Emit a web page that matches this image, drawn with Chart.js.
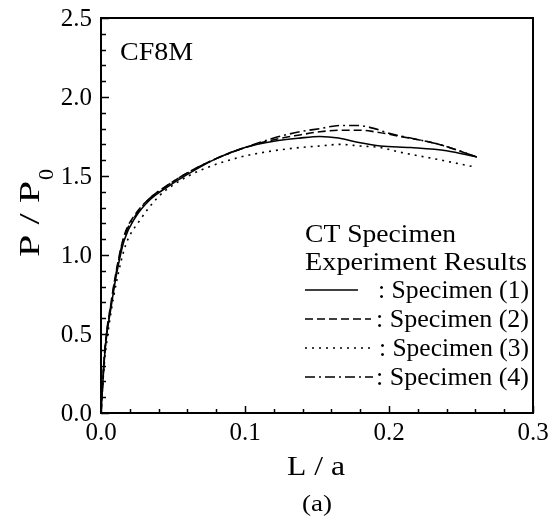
<!DOCTYPE html>
<html>
<head>
<meta charset="utf-8">
<script src="https://cdn.jsdelivr.net/npm/chart.js@4"></script>
<style>
html,body{margin:0;padding:0;background:#fff;}
#wrap{width:560px;height:523px;}
</style>
</head>
<body>
<div id="wrap"><canvas id="c" width="560" height="523"></canvas></div>
<script>
// Data (L/a, P/P0)
const s1L = [0, 0.002, 0.0035, 0.007, 0.0104, 0.016, 0.024, 0.034, 0.046, 0.06, 0.08, 0.1, 0.12, 0.138, 0.152, 0.165, 0.18, 0.194, 0.215, 0.24, 0.261];
const s1P = [0, 0.30, 0.46, 0.67, 0.86, 1.09, 1.24, 1.35, 1.43, 1.51, 1.61, 1.68, 1.72, 1.74, 1.75, 1.74, 1.71, 1.69, 1.68, 1.66, 1.62];
const s2L = [0, 0.002, 0.0035, 0.007, 0.0104, 0.016, 0.024, 0.034, 0.046, 0.06, 0.08, 0.1, 0.12, 0.138, 0.152, 0.166, 0.18, 0.19, 0.208, 0.235, 0.261];
const s2P = [0, 0.32, 0.48, 0.70, 0.89, 1.12, 1.26, 1.36, 1.44, 1.52, 1.61, 1.68, 1.73, 1.76, 1.78, 1.79, 1.79, 1.78, 1.75, 1.70, 1.62];
const s3L = [0, 0.002, 0.004, 0.007, 0.011, 0.017, 0.027, 0.04, 0.053, 0.07, 0.097, 0.12, 0.138, 0.152, 0.166, 0.18, 0.194, 0.208, 0.231, 0.258];
const s3P = [0, 0.28, 0.45, 0.64, 0.84, 1.06, 1.22, 1.37, 1.46, 1.54, 1.62, 1.66, 1.68, 1.69, 1.70, 1.69, 1.68, 1.65, 1.61, 1.56];
const s4L = [0, 0.002, 0.0035, 0.007, 0.0104, 0.016, 0.024, 0.034, 0.046, 0.06, 0.08, 0.1, 0.12, 0.138, 0.152, 0.166, 0.178, 0.19, 0.2, 0.215, 0.235, 0.261];
const s4P = [0, 0.31, 0.47, 0.69, 0.88, 1.11, 1.25, 1.36, 1.44, 1.52, 1.61, 1.68, 1.74, 1.78, 1.80, 1.82, 1.82, 1.80, 1.77, 1.74, 1.70, 1.62];

const seriesNames = ['Specimen (1)', 'Specimen (2)', 'Specimen (3)', 'Specimen (4)'];
const dashes = [[], [8, 4], [2, 5], [10, 4, 2, 4]];
const xMajor = [0, 0.1, 0.2, 0.3];
const yMajor = [0, 0.5, 1.0, 1.5, 2.0, 2.5];

const FONT = '"Liberation Serif", "Times New Roman", serif';

function pts(L, P) { return L.map((x, i) => ({x: x, y: P[i]})); }

const data = {
  datasets: [
    {label: seriesNames[0], data: pts(s1L, s1P), borderDash: dashes[0]},
    {label: seriesNames[1], data: pts(s2L, s2P), borderDash: dashes[1]},
    {label: seriesNames[2], data: pts(s3L, s3P), borderDash: dashes[2]},
    {label: seriesNames[3], data: pts(s4L, s4P), borderDash: dashes[3]}
  ].map(d => Object.assign(d, {
    borderColor: '#000', borderWidth: 1.6, pointRadius: 0, tension: 0.4,
    cubicInterpolationMode: 'monotone', fill: false
  }))
};

// draw text; if tw > 0 the text is fitted horizontally to width tw
function txt(ctx, s, x, y, size, tw, align) {
  ctx.save();
  ctx.font = size + 'px ' + FONT;
  const mw = ctx.measureText(s).width;
  const sx = tw > 0 ? tw / mw : 1;
  const w = mw * sx;
  let left = x;
  if (align === 'center') left = x - w / 2;
  else if (align === 'right') left = x - w;
  ctx.translate(left, y);
  ctx.scale(sx, 1);
  ctx.textAlign = 'left';
  ctx.textBaseline = 'alphabetic';
  ctx.fillText(s, 0, 0);
  ctx.restore();
}

const decor = {
  id: 'decor',
  afterDraw(chart) {
    const ctx = chart.ctx;
    const a = chart.chartArea;
    const xs = chart.scales.x, ys = chart.scales.y;
    ctx.save();
    ctx.strokeStyle = '#000';
    ctx.fillStyle = '#000';
    ctx.lineWidth = 2;
    ctx.setLineDash([]);
    ctx.strokeRect(a.left, a.top, a.right - a.left, a.bottom - a.top);
    ctx.lineWidth = 1.5;
    // x ticks (inward), minor every 0.02
    for (let i = 0; i <= 15; i++) {
      const v = i * 0.02;
      const px = Math.round(xs.getPixelForValue(v)) + 0.5;
      const len = (i % 5 === 0) ? 7 : 4;
      ctx.beginPath(); ctx.moveTo(px, a.bottom); ctx.lineTo(px, a.bottom - len); ctx.stroke();
    }
    // y ticks (inward), minor every 0.1
    for (let i = 0; i <= 25; i++) {
      const v = i * 0.1;
      const py = Math.round(ys.getPixelForValue(v)) + 0.5;
      const len = (i % 5 === 0) ? 8 : 5;
      ctx.beginPath(); ctx.moveTo(a.left, py); ctx.lineTo(a.left + len, py); ctx.stroke();
    }
    // tick labels from the scales
    xMajor.forEach(v => {
      txt(ctx, v.toFixed(1), xs.getPixelForValue(v), a.bottom + 27, 25, 0, 'center');
    });
    yMajor.forEach(v => {
      txt(ctx, v.toFixed(1), a.left - 9, ys.getPixelForValue(v) + 8, 25, 0, 'right');
    });
    // CF8M
    txt(ctx, 'CF8M', 120, 60, 26, 73, 'left');
    // legend block
    txt(ctx, 'CT Specimen', 305, 242, 26, 151, 'left');
    txt(ctx, 'Experiment Results', 305, 270, 26, 222, 'left');
    const rowsY = [298, 327, 356, 385];
    const lineEnd = [358, 371, 370, 373];
    const textX = [378, 376, 379, 376];
    for (let i = 0; i < 4; i++) {
      ctx.lineWidth = 1.5;
      ctx.setLineDash(dashes[i]);
      ctx.beginPath(); ctx.moveTo(305, rowsY[i] - 8); ctx.lineTo(lineEnd[i], rowsY[i] - 8); ctx.stroke();
      ctx.setLineDash([]);
      txt(ctx, ': ' + seriesNames[i], textX[i], rowsY[i], 26, 529 - textX[i], 'left');
    }
    // x title and caption
    txt(ctx, 'L / a', 316, 475, 28, 58, 'center');
    txt(ctx, '(a)', 317, 511, 24, 30, 'center');
    // y title with subscript (rotated)
    ctx.save();
    ctx.translate(39, 257);
    ctx.rotate(-Math.PI / 2);
    ctx.textAlign = 'left';
    ctx.textBaseline = 'alphabetic';
    ctx.font = '30px ' + FONT;
    const main = 'P / P';
    const w = ctx.measureText(main).width;
    const k = 76 / w;
    ctx.save();
    ctx.scale(k, 1);
    ctx.fillText(main, 0, 0);
    ctx.restore();
    ctx.font = '22px ' + FONT;
    ctx.fillText('0', 76 + 1, 14);
    ctx.restore();
    ctx.restore();
  }
};

new Chart(document.getElementById('c'), {
  type: 'line',
  data: data,
  options: {
    responsive: false,
    animation: false,
    layout: {padding: {left: 0, top: 18, right: 27, bottom: 0}},
    plugins: {legend: {display: false}, tooltip: {enabled: false}},
    scales: {
      x: {
        type: 'linear', min: 0, max: 0.3,
        afterFit(s) { s.height = 110; },
        afterBuildTicks(s) { s.ticks = xMajor.map(v => ({value: v})); },
        grid: {display: false, drawTicks: false},
        border: {display: false},
        ticks: {display: false}
      },
      y: {
        type: 'linear', min: 0, max: 2.5,
        afterFit(s) { s.width = 101; },
        afterBuildTicks(s) { s.ticks = yMajor.map(v => ({value: v})); },
        grid: {display: false, drawTicks: false},
        border: {display: false},
        ticks: {display: false}
      }
    }
  },
  plugins: [decor]
});
</script>
</body>
</html>
